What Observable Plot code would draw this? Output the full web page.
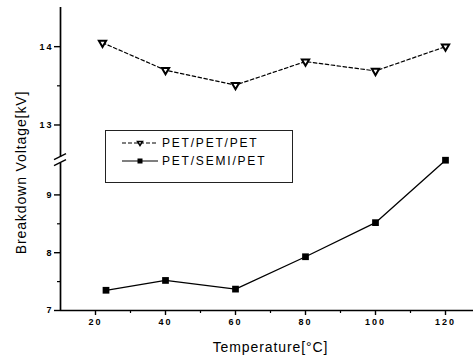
<!DOCTYPE html>
<html><head><meta charset="utf-8">
<script src="https://cdn.jsdelivr.net/npm/d3@7"></script>
<script src="https://cdn.jsdelivr.net/npm/@observablehq/plot@0.6"></script>
<style>
body{margin:0;background:#fff;}
#wrap{position:relative;width:473px;height:360px;font-family:"Liberation Sans",Arial,sans-serif;}
#wrap svg [aria-label="x-axis tick label"] text,#wrap svg [aria-label="y-axis tick label"] text{letter-spacing:2px}
#legend{position:absolute;left:105px;top:130px;width:188px;height:53px;border:1px solid #222;background:#fff;box-sizing:border-box;}
.row{position:absolute;left:0;height:16px;display:flex;align-items:center;}
.row svg{display:block}
.row span{font-size:12px;letter-spacing:1.8px;color:#000;margin-left:2px;line-height:16px}
</style></head>
<body>
<div id="wrap"></div>
<script>
const petTemp = [22, 40, 60, 80, 100, 120];
const petVals = [14.05, 13.70, 13.51, 13.81, 13.69, 14.00];
const semiTemp = [23, 40, 60, 80, 100, 120];
const semiVals = [7.35, 7.52, 7.37, 7.93, 8.52, 9.60];
const xTicks = [20, 40, 60, 80, 100, 120];
const xMinor = [30, 50, 70, 90, 110];
const yTicks = [7, 8, 9, 13, 14];
const yMinor = [7.5, 8.5, 13.5];
const seriesNames = ["PET/PET/PET", "PET/SEMI/PET"];

// broken y axis: lower part 7–9.6, upper part 12.55–14.5 (stretched by k)
const lowTop = 9.6, upBottom = 12.55, upTop = 14.5, k = 1.355;
const fy = v => v <= lowTop ? v : lowTop + (v - upBottom) * k;
const invf = u => u <= lowTop ? u : upBottom + (u - lowTop) / k;

const petData = petTemp.map((t, i) => ({t, v: petVals[i]}));
const semiData = semiTemp.map((t, i) => ({t, v: semiVals[i]}));

const chart = Plot.plot({
  width: 473, height: 360,
  marginLeft: 60, marginRight: 0, marginTop: 7, marginBottom: 50,
  style: {background: "#fff", fontFamily: "Liberation Sans, Arial, sans-serif", color: "#000"},
  x: {domain: [10, 128]},
  y: {domain: [7, fy(upTop)]},
  marks: [
    Plot.ruleY([7], {stroke: "#000", strokeWidth: 1.7}),
    Plot.ruleX([10], {y1: 7, y2: fy(9.55), stroke: "#000", strokeWidth: 1.7}),
    Plot.ruleX([10], {y1: fy(12.59), y2: fy(upTop), stroke: "#000", strokeWidth: 1.7}),
    Plot.axisX(xTicks, {tickSize: 5, tickPadding: 3, fontSize: 9, fontWeight: "bold", strokeWidth: 1.4, label: null}),
    Plot.axisX(xMinor, {tickSize: 3, tickFormat: () => "", strokeWidth: 1.2, label: null}),
    Plot.axisY(yTicks.map(fy), {tickSize: 6, tickPadding: 1, fontSize: 9, fontWeight: "bold", strokeWidth: 1.4, label: null, tickFormat: d => String(Math.round(invf(d)))}),
    Plot.axisY(yMinor.map(fy), {tickSize: 3, tickFormat: () => "", strokeWidth: 1.2, label: null}),
    Plot.line(petData, {x: "t", y: d => fy(d.v), stroke: "#000", strokeWidth: 1.2, strokeDasharray: "3.5,2.5"}),
    Plot.dot(petData, {x: "t", y: d => fy(d.v), symbol: "triangle", rotate: 180, r: 2.7, fill: "#fff", stroke: "#000", strokeWidth: 2}),
    Plot.line(semiData, {x: "t", y: d => fy(d.v), stroke: "#000", strokeWidth: 1.3}),
    Plot.dot(semiData, {x: "t", y: d => fy(d.v), symbol: "square", r: 3.8, fill: "#000", stroke: "none"}),
    Plot.text(["Temperature[°C]"], {frameAnchor: "bottom", lineAnchor: "middle", textAnchor: "middle", dx: 3.5, dy: 37, fontSize: 14, fill: "#000"}),
    Plot.text(["Breakdown Voltage[kV]"], {frameAnchor: "left", lineAnchor: "middle", textAnchor: "middle", rotate: -90, dx: -39, dy: 13.5, fontSize: 14, fill: "#000"})
  ]
});

// axis break marks, placed through the scales
const sx = chart.scale("x"), sy = chart.scale("y");
const svg = d3.select(chart);
svg.selectAll('[aria-label="text"] text').style("letter-spacing", "0.9px");
const bx = sx.apply(10);
[sy.apply(fy(9.55)), sy.apply(fy(12.59))].forEach(by => {
  svg.append("path")
    .attr("d", `M${bx - 6},${by + 3}L${bx + 6},${by - 3}`)
    .attr("stroke", "#000").attr("stroke-width", 1.4).attr("fill", "none");
});

const wrap = document.getElementById("wrap");
wrap.appendChild(chart);

// legend
const legend = document.createElement("div");
legend.id = "legend";
const rowsTop = [4, 22];
seriesNames.forEach((name, i) => {
  const row = document.createElement("div");
  row.className = "row";
  row.style.top = rowsTop[i] + "px";
  const ns = "http://www.w3.org/2000/svg";
  const s = document.createElementNS(ns, "svg");
  s.setAttribute("width", "54"); s.setAttribute("height", "16");
  const ln = document.createElementNS(ns, "line");
  ln.setAttribute("x1", 16); ln.setAttribute("x2", 52); ln.setAttribute("y1", 8); ln.setAttribute("y2", 8);
  ln.setAttribute("stroke", "#000"); ln.setAttribute("stroke-width", 1.1);
  if (i === 0) ln.setAttribute("stroke-dasharray", "4,2");
  s.appendChild(ln);
  if (i === 0) {
    const p = document.createElementNS(ns, "path");
    p.setAttribute("d", "M31.5,6.5L36.5,6.5L34,10.5Z");
    p.setAttribute("fill", "#fff"); p.setAttribute("stroke", "#000"); p.setAttribute("stroke-width", 1.5);
    s.appendChild(p);
  } else {
    const r = document.createElementNS(ns, "rect");
    r.setAttribute("x", 31.5); r.setAttribute("y", 5.5); r.setAttribute("width", 5); r.setAttribute("height", 5);
    r.setAttribute("fill", "#000");
    s.appendChild(r);
  }
  row.appendChild(s);
  const t = document.createElement("span");
  t.textContent = name;
  row.appendChild(t);
  legend.appendChild(row);
});
wrap.appendChild(legend);
</script>
</body></html>
